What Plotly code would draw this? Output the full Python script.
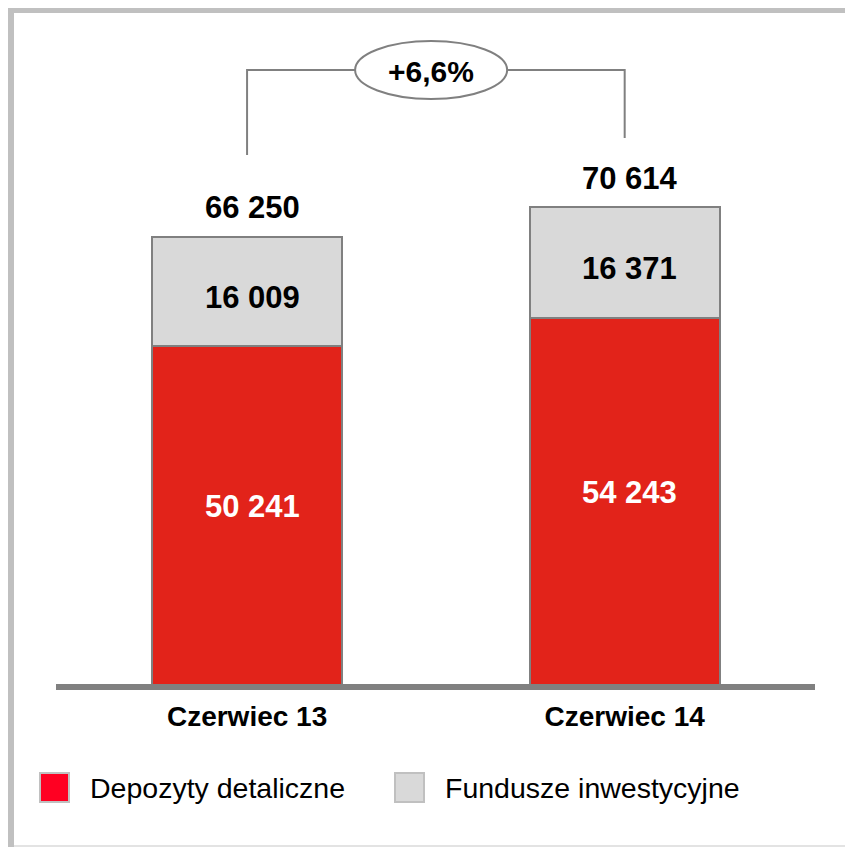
import plotly.graph_objects as go

categories = ["Czerwiec 13", "Czerwiec 14"]
depozyty = [50241, 54243]
fundusze = [16009, 16371]
totals = [66250, 70614]
growth_label = "+6,6%"
series_names = ["Depozyty detaliczne", "Fundusze inwestycyjne"]

RED = "#E2231A"
GREY = "#D9D9D9"
OUTLINE = "#808080"
FONT = "Liberation Sans, Arial, sans-serif"

# the page body has an 8px margin, so screen positions are shifted by it
OFF = 8
W, H = 853, 847
PLOT_L, PLOT_R, PLOT_T, BASE = 56, 815, 8, 687   # screen pixels
L, R, T, B = PLOT_L - OFF, W - (PLOT_R - OFF), PLOT_T - OFF, H - (BASE - OFF)
PW, PH = W - L - R, H - T - B
K = 0.006795                                      # px per unit
YMAX = PH / K


def fmt(v):
    return f"{v:,}".replace(",", " ")


def px_x(p):
    return (p - PLOT_L) / PW


def px_y(p):
    return (BASE - p) / PH


def val_y(p):
    return (BASE - p) / K


fig = go.Figure()
fig.add_trace(go.Bar(
    x=[0, 1], y=depozyty, name=series_names[0],
    marker=dict(color=RED, line=dict(color=OUTLINE, width=2)),
    width=0.503,
))
fig.add_trace(go.Bar(
    x=[0, 1], y=fundusze, name=series_names[1],
    marker=dict(color=GREY, line=dict(color=OUTLINE, width=2)),
    width=0.503,
))

label_font = dict(family=FONT, size=31, weight="bold")

# segment labels
for i, (d, f) in enumerate(zip(depozyty, fundusze)):
    fig.add_annotation(x=i, y=d / 2, text=fmt(d), showarrow=False,
                       xshift=5, yshift=10,
                       font=dict(label_font, color="white"))
    fig.add_annotation(x=i, y=d + f / 2, text=fmt(f), showarrow=False,
                       xshift=5, yshift=-6,
                       font=dict(label_font, color="black"))

# totals above bars
for i, t in enumerate(totals):
    fig.add_annotation(x=i, y=t, text=fmt(t), showarrow=False,
                       yanchor="middle", yshift=29, xshift=5,
                       font=dict(label_font, color="black"))

shapes = []
# growth bracket
y_top = val_y(70)
shapes.append(dict(type="path", xref="x", yref="y",
                   path=f"M 0,{val_y(155)} L 0,{y_top} L 0.3,{y_top}",
                   line=dict(color=OUTLINE, width=2)))
shapes.append(dict(type="path", xref="x", yref="y",
                   path=f"M 0.68,{y_top} L 1,{y_top} L 1,{val_y(138)}",
                   line=dict(color=OUTLINE, width=2)))
shapes.append(dict(type="circle", xref="x", yref="y",
                   x0=(355 - 247) / 377.5, x1=(507 - 247) / 377.5,
                   y0=val_y(99), y1=val_y(41),
                   line=dict(color=OUTLINE, width=2), fillcolor="white"))
fig.add_annotation(x=(431 - 247) / 377.5, y=val_y(71), text=growth_label,
                   showarrow=False,
                   font=dict(family=FONT, size=30, color="black", weight="bold"))

# baseline
shapes.append(dict(type="line", xref="paper", yref="paper", x0=0, x1=1,
                   y0=px_y(687), y1=px_y(687),
                   line=dict(color=OUTLINE, width=6)))

# frame
shapes.append(dict(type="line", xref="paper", yref="paper",
                   x0=px_x(8), x1=px_x(W + OFF), y0=px_y(10), y1=px_y(10),
                   line=dict(color="#C0C0C0", width=6)))
shapes.append(dict(type="line", xref="paper", yref="paper",
                   x0=px_x(11), x1=px_x(11), y0=px_y(7), y1=px_y(H + OFF),
                   line=dict(color="#C0C0C0", width=6)))
shapes.append(dict(type="line", xref="paper", yref="paper",
                   x0=px_x(14), x1=px_x(W + OFF), y0=px_y(846), y1=px_y(846),
                   line=dict(color="#E3E3E3", width=2)))

# legend
legend_items = [(40, "#FF0022", 88), (395, GREY, 443)]
for (sx, col, tx), name in zip(legend_items, series_names):
    shapes.append(dict(type="rect", xref="paper", yref="paper",
                       x0=px_x(sx), x1=px_x(sx + 29), y0=px_y(802), y1=px_y(773),
                       fillcolor=col, line=dict(color="#C0C0C0", width=2)))
    fig.add_annotation(xref="paper", yref="paper", x=px_x(tx), y=px_y(788),
                       xanchor="left", yanchor="middle", text=name, showarrow=False,
                       font=dict(family=FONT, size=28.5, color="black"))

fig.update_layout(
    width=W, height=H,
    margin=dict(l=L, r=R, t=T, b=B, pad=0),
    barmode="stack",
    showlegend=False,
    plot_bgcolor="white",
    paper_bgcolor="white",
    shapes=shapes,
    xaxis=dict(range=[-0.506, 1.504], tickvals=[0, 1], ticktext=categories,
               tickfont=dict(family=FONT, size=28, color="black", weight="bold"),
               showgrid=False, zeroline=False, showline=False, ticks="",
               ticklabelstandoff=10, fixedrange=True),
    yaxis=dict(range=[0, YMAX], visible=False, fixedrange=True),
)

fig.write_html("out.html")
